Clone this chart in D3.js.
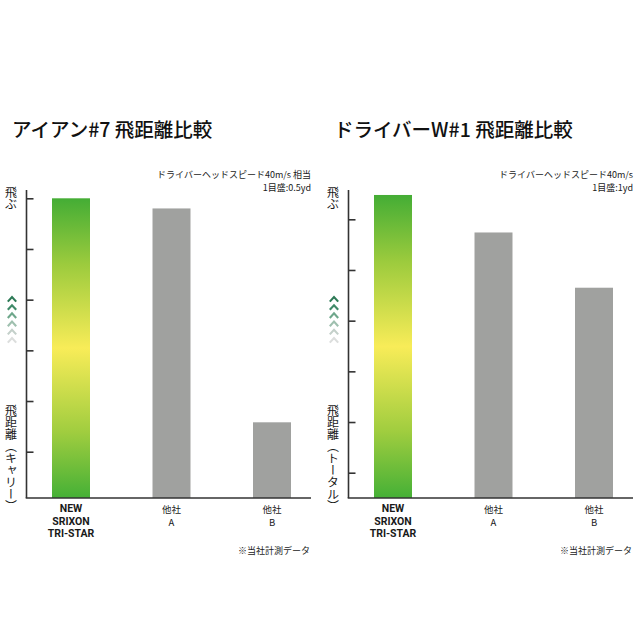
<!doctype html>
<html><head><meta charset="utf-8"/>
<title>飛距離比較</title>
<style>
  body { margin:0; background:#fff; }
  svg { display:block; }
  text { font-family:"Noto Sans CJK JP","Noto Sans",sans-serif; fill:#1a1a1a; }
  .title { font-size:19.5px; font-weight:500; fill:#111; }
  .note { font-size:9px; }
  .side { font-size:12px; }
  .cat { font-size:9.5px; }
  .catBold { font-family:Roboto,"Liberation Sans",sans-serif; font-size:10.5px; font-weight:bold; }
  .vert { writing-mode:vertical-rl; font-size:12px; }
</style>
</head><body>
<svg id="chart" width="640" height="640"></svg>
<script src="https://cdn.jsdelivr.net/npm/d3@7"></script>
<script>
// categories (one entry per bar, split into label lines)
const categories = ["NEW SRIXON TRI-STAR", "他社 A", "他社 B"];
const categoryLines = [["NEW", "SRIXON", "TRI-STAR"], ["他社", "A"], ["他社", "B"]];

// iron #7 carry, yd above the baseline (1 tick = 0.5yd)
const ironValues = [3.0, 2.9, 0.79];
const ironTicks = [0.5, 1.0, 1.5, 2.0, 2.5, 3.0];

// driver W#1 total, yd (1 tick = 1yd)
const driverValues = [6.48, 5.74, 4.65];
const driverTicks = [1, 2, 3, 4, 5, 6];

// arrow fade, top to bottom
const chevronColors = ["#2d7a56", "#3f8a68", "#6ea78b", "#9fc0af", "#c4d0ca", "#dcdedd"];

const svg = d3.select("#chart");
const defs = svg.append("defs");
const grad = defs.append("linearGradient").attr("id", "srixon")
  .attr("x1", 0).attr("y1", 0).attr("x2", 0).attr("y2", 1);
[[0, "#44ad35"], [0.22, "#9ccb3d"], [0.5, "#f8ec58"], [0.78, "#a0cd3f"], [1, "#45b036"]]
  .forEach(([o, c]) => grad.append("stop").attr("offset", o).attr("stop-color", c));

const panels = [
  { x0: 0, title: "アイアン#7 飛距離比較", note: ["ドライバーヘッドスピード40m/s 相当", "1目盛:0.5yd"],
    values: ironValues, ticks: ironTicks, yDomain: [0.5, 3.0], yRange: [451.7, 198.3], low: "飛距離（キャリー）" },
  { x0: 322, title: "ドライバーW#1 飛距離比較", note: ["ドライバーヘッドスピード40m/s", "1目盛:1yd"],
    values: driverValues, ticks: driverTicks, yDomain: [1, 6], yRange: [472.7, 219.3], low: "飛距離（トータル）" },
];

const baseY = 498;

panels.forEach(p => {
  const g = svg.append("g").attr("transform", `translate(${p.x0},0)`);
  const axisX = 26.5;
  const right = 311;

  g.append("text").attr("class", "title").attr("x", 12).attr("y", 137).text(p.title);
  p.note.forEach((t, i) => g.append("text").attr("class", "note")
    .attr("x", right).attr("y", 178 + i * 13).attr("text-anchor", "end").text(t));

  const x = d3.scaleBand().domain(categories).range([20.75, 322.25])
    .paddingInner(0.622).paddingOuter(0.311);
  const y = d3.scaleLinear().domain(p.yDomain).range(p.yRange);

  g.selectAll("rect.bar").data(p.values).join("rect").attr("class", "bar")
    .attr("x", (d, i) => x(categories[i]))
    .attr("width", x.bandwidth())
    .attr("y", d => y(d))
    .attr("height", d => baseY - y(d))
    .attr("fill", (d, i) => i === 0 ? "url(#srixon)" : "#a0a19f");

  // ticks
  const axis = d3.axisRight(y).tickValues(p.ticks).tickSize(7).tickFormat("");
  const ag = g.append("g").attr("transform", `translate(${axisX},0)`).call(axis);
  ag.select(".domain").remove();
  ag.selectAll("line").attr("stroke", "#333").attr("stroke-width", 1.6);

  g.append("line").attr("x1", axisX).attr("x2", axisX).attr("y1", 190).attr("y2", baseY)
    .attr("stroke", "#333").attr("stroke-width", 1.6);
  g.append("line").attr("x1", axisX - 0.8).attr("x2", right).attr("y1", baseY).attr("y2", baseY)
    .attr("stroke", "#333").attr("stroke-width", 1.6);

  // category labels
  categoryLines.forEach((lines, i) => {
    const cx = x(categories[i]) + x.bandwidth() / 2;
    lines.forEach((t, j) => {
      const bold = i === 0;
      g.append("text").attr("class", bold ? "catBold" : "cat")
        .attr("x", cx).attr("y", bold ? 512 + j * 12.7 : 513 + j * 13)
        .attr("text-anchor", "middle").text(t);
    });
  });
  g.append("text").attr("class", "note").attr("x", right - 1).attr("y", 554)
    .attr("text-anchor", "end").text("※当社計測データ");

  // side labels
  g.append("text").attr("class", "vert").attr("x", 11).attr("y", 186).text("飛ぶ");
  g.append("text").attr("class", "vert").attr("x", 11).attr("y", 404).text(p.low);

  // chevrons
  g.selectAll("path.chev").data(chevronColors).join("path").attr("class", "chev")
    .attr("d", (c, i) => { const cy = 297 + i * 8.2; return `M7.8,${cy + 4.6} L12,${cy} L16.2,${cy + 4.6}`; })
    .attr("fill", "none").attr("stroke", c => c).attr("stroke-width", 2.1);
});
</script>
</body></html>
